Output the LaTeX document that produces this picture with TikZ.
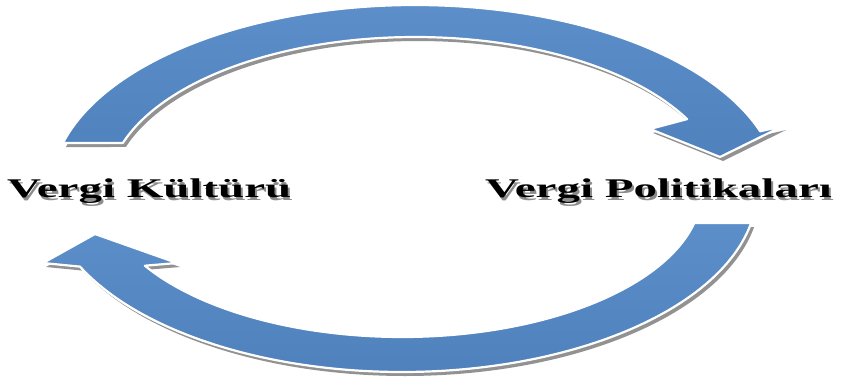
\documentclass[tikz,border=0pt]{standalone}
\usepackage{fontspec}
\usepackage{graphicx}
\setmainfont{Liberation Serif}
\definecolor{arrowblue}{RGB}{79,129,189}
\definecolor{arrowblueL}{RGB}{92,142,201}
\definecolor{shadowgray}{RGB}{128,128,128}
\newcommand{\ShadowText}[1]{\makebox[0pt][l]{\hspace{2pt}\raisebox{-3pt}{\textcolor{black!45}{\scalebox{1.74}[1]{#1}}}}\scalebox{1.74}[1]{#1}}
\tikzset{
  toparrowpath/.style={insert path={
    plot[domain=165.3:18.5, samples=90, smooth] ({415+364*cos(\x)}, {190-185*sin(\x)})
    -- (783,126) -- (720,157) -- (650,129)
    -- plot[domain=27.6:162.1, samples=90, smooth] ({415+307*cos(\x)}, {190-153*sin(\x)})
    -- cycle}},
  botarrowpath/.style={insert path={
    plot[domain=10.45:155.1, samples=90, smooth] ({402+355*cos(\x)}, {190+182*sin(\x)})
    -- (43,263) -- (95,234) -- (177,263)
    -- plot[domain=149:12.97, samples=90, smooth] ({402+300*cos(\x)}, {190+147*sin(\x)})
    -- cycle}},
  arrowshadow/.style={fill=shadowgray, opacity=0.85},
  arrowbody/.style={top color=arrowblueL, bottom color=arrowblue, draw=white, line width=2.2, line join=round},
  label/.style={font=\fontsize{27}{27}\selectfont\bfseries, inner sep=0pt, anchor=base west},
}
\begin{document}
\begin{tikzpicture}[x=1pt, y=-1pt]
\useasboundingbox (0,0) rectangle (842,380);
\fill[white] (0,0) rectangle (842,380);
% shadows
\begin{scope}[shift={(3,4)}]
  \fill[arrowshadow, toparrowpath];
  \fill[arrowshadow, botarrowpath];
\end{scope}
% arrows
\path[arrowbody, toparrowpath];
\path[arrowbody, botarrowpath];
% labels
\node[label] (kultur) at (7,197) {\ShadowText{Vergi Kültürü}};
\node[label] (politika) at (485,197) {\ShadowText{Vergi Politikaları}};
\end{tikzpicture}
\end{document}
